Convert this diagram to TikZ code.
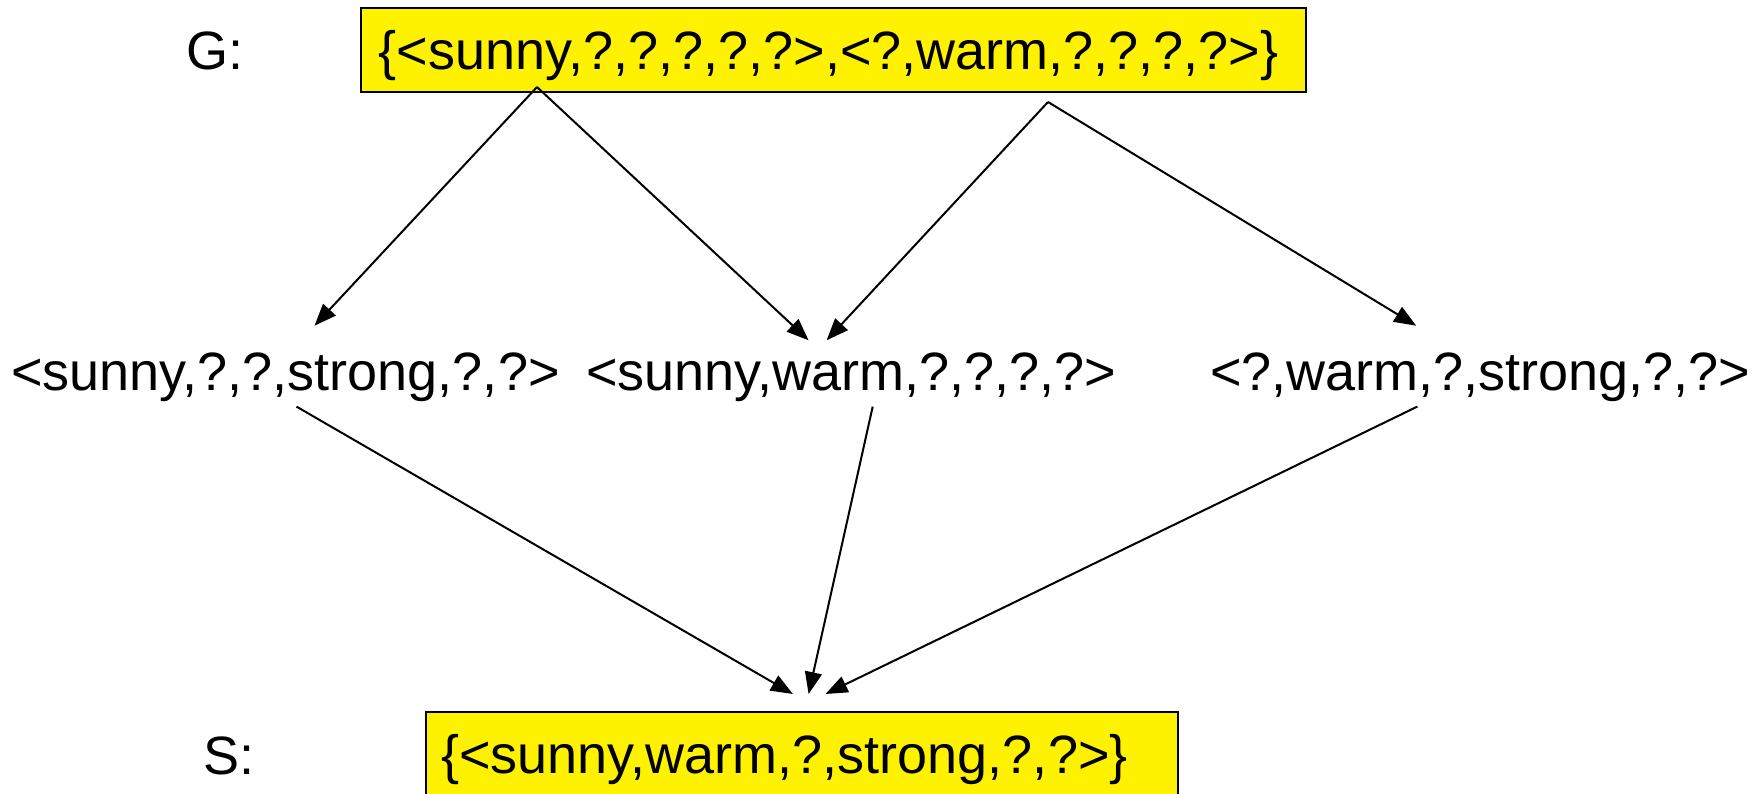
\documentclass[tikz,border=0pt]{standalone}
\usepackage{fontspec}
\setmainfont{Liberation Sans}
\usetikzlibrary{arrows.meta}
\begin{document}
\begin{tikzpicture}[x=1pt,y=-1pt,
  txt/.style={inner sep=0pt, anchor=base west, font=\fontsize{54}{64}\selectfont},
  ybox/.style={draw=black, line width=2pt, fill=yellow, inner sep=0pt, anchor=north west},
  conn/.style={line width=2pt, -{Triangle[length=22pt,width=17pt]}}]
\useasboundingbox (0,0) rectangle (1761,793);
\fill[white] (0,0) rectangle (1761,793);
% boxes
\node[ybox, minimum width=945pt, minimum height=84pt] (Gbox) at (360,7) {};
\node[ybox, minimum width=752pt, minimum height=90pt] (Sbox) at (425,711) {};
% texts
\node[txt] (Glab) at (186.5,69) {G:};
\node[txt] (Gset) at (378.5,69) {\{<sunny,?,?,?,?,?>,<?,warm,?,?,?,?>\}};
\node[txt] (Slab) at (203,774) {S:};
\node[txt] (Sset) at (441,773) {\{<sunny,warm,?,strong,?,?>\}};
\node[txt] (h1) at (11,390) {<sunny,?,?,strong,?,?>};
\node[txt] (h2) at (586,390) {<sunny,warm,?,?,?,?>};
\node[txt] (h3) at (1210,390) {<?,warm,?,strong,?,?>};
% connector ends
\coordinate (ga) at (537,87);
\coordinate (gb) at (1048,102);
\coordinate (h1in) at (314.5,325.7);
\coordinate (h2inL) at (808.6,340.3);
\coordinate (h2inR) at (826.6,340.3);
\coordinate (h3in) at (1416.2,325.7);
\coordinate (h1out) at (296.5,406.6);
\coordinate (h2out) at (872.7,406.6);
\coordinate (h3out) at (1417.3,406.6);
\coordinate (s1) at (792.9,694);
\coordinate (s2) at (808.6,694);
\coordinate (s3) at (825.5,694);
% connectors
\draw[conn] (ga) -- (h1in);
\draw[conn] (ga) -- (h2inL);
\draw[conn] (gb) -- (h2inR);
\draw[conn] (gb) -- (h3in);
\draw[conn] (h1out) -- (s1);
\draw[conn] (h2out) -- (s2);
\draw[conn] (h3out) -- (s3);
\end{tikzpicture}
\end{document}
